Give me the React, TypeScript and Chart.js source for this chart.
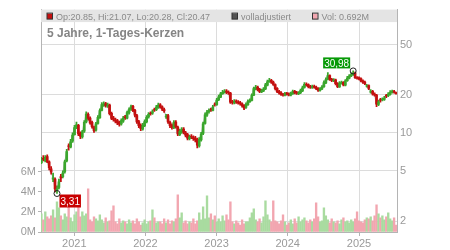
import React, { useEffect, useRef } from 'react';
import { Chart, registerables } from 'chart.js';

Chart.register(...registerables);

// ---- data ----
const startDate = '2020-07-16';
const stepDays = 10;
const axisStart = '2020-07-14';
const axisEnd = '2025-07-15';
const yearTicks = [2021, 2022, 2023, 2024, 2025];
const priceTicks = [2, 5, 10, 20, 50];
const volumeTicksM = [0, 2, 4, 6];
const titleText = '5 Jahre, 1-Tages-Kerzen';
const legendOHLC = 'Op:20.85, Hi:21.07, Lo:20.28, Cl:20.47';
const legendAdjusted = 'volladjustiert';
const legendVolume = 'Vol: 0.692M';

const opens = [
  5.8, 6.3, 6.0, 6.5, 5.9, 5.2, 4.3, 4.3, 3.5, 3.7,
  4.5, 4.5, 4.9, 6.0, 7.9, 7.7, 8.6, 9.7, 11.1, 11.5,
  9.9, 9.3, 10.3, 12.2, 14.0, 13.1, 12.1, 11.0, 10.5, 11.9,
  13.2, 15.1, 16.6, 17.1, 16.3, 16.6, 14.3, 13.1, 12.7, 12.5,
  12.1, 11.8, 12.4, 13.4, 13.1, 14.4, 15.4, 16.2, 15.1, 13.7,
  12.3, 11.5, 10.7, 11.4, 12.2, 13.4, 14.3, 14.3, 15.3, 15.3,
  15.9, 16.7, 16.1, 15.3, 13.4, 13.7, 12.1, 11.5, 11.0, 12.2,
  11.1, 9.7, 10.2, 10.7, 10.0, 9.7, 9.0, 9.4, 9.2, 9.1,
  8.9, 7.9, 8.8, 9.9, 11.9, 13.8, 14.7, 15.3, 15.1, 16.9,
  16.7, 18.3, 19.2, 20.5, 20.9, 21.4, 21.1, 20.7, 17.6, 17.3,
  17.9, 17.5, 17.4, 17.0, 16.5, 15.9, 16.7, 17.7, 18.1, 19.9,
  22.3, 23.1, 22.1, 21.1, 21.5, 22.3, 23.9, 25.5, 26.1, 25.3,
  24.1, 22.5, 21.3, 20.8, 20.1, 19.9, 20.6, 20.4, 19.9, 20.5,
  21.3, 20.9, 20.5, 20.8, 21.5, 22.9, 24.3, 24.1, 23.3, 22.9,
  23.4, 23.1, 22.5, 21.7, 22.3, 23.2, 24.9, 26.6, 28.4, 26.6,
  25.9, 26.3, 24.6, 23.1, 24.7, 25.1, 23.9, 25.9, 27.1, 28.3,
  28.9, 29.9, 27.3, 27.3, 26.9, 25.9, 25.3, 23.4, 23.7, 21.0,
  21.3, 20.3, 19.9, 16.8, 18.4, 18.3, 18.4, 19.8, 19.7, 20.2,
  20.9, 21.3, 20.85,
];
const highs = [
  6.4, 6.6, 6.6, 6.7, 6.0, 5.4, 4.8, 4.4, 3.8, 4.3,
  4.7, 5.0, 6.1, 7.4, 8.2, 8.9, 10.0, 11.5, 12.2, 11.7,
  10.2, 10.5, 12.5, 14.7, 14.4, 13.4, 12.4, 11.3, 12.1, 13.7,
  15.5, 17.4, 17.6, 17.5, 17.2, 16.9, 14.6, 13.5, 13.1, 12.8,
  12.4, 12.9, 13.5, 13.8, 14.9, 15.8, 16.6, 16.5, 15.4, 14.0,
  12.6, 11.8, 11.9, 12.7, 13.7, 14.5, 14.7, 15.2, 15.7, 16.5,
  17.2, 17.1, 16.4, 15.7, 14.0, 14.0, 12.4, 11.8, 12.5, 12.5,
  11.3, 10.7, 11.0, 11.0, 10.3, 9.9, 9.6, 9.7, 9.5, 9.4,
  9.1, 9.2, 10.1, 12.2, 14.4, 15.1, 15.5, 15.7, 16.5, 17.3,
  18.8, 19.9, 21.0, 21.7, 22.0, 22.0, 21.5, 21.0, 18.1, 18.4,
  18.3, 18.0, 17.8, 17.3, 16.8, 17.3, 18.3, 18.6, 20.4, 23.1,
  23.8, 23.5, 22.5, 22.2, 22.9, 24.7, 26.2, 27.0, 26.6, 25.7,
  24.5, 22.9, 21.7, 21.2, 20.6, 21.0, 21.0, 20.8, 21.1, 21.8,
  21.7, 21.3, 21.2, 22.2, 23.5, 25.0, 24.9, 24.5, 23.8, 23.9,
  23.9, 23.5, 22.9, 22.9, 23.7, 25.8, 27.3, 30.0, 28.9, 27.0,
  26.9, 26.7, 25.0, 25.5, 25.7, 25.5, 26.5, 28.0, 29.0, 29.9,
  30.98, 30.3, 27.9, 27.8, 27.3, 26.3, 25.7, 24.3, 24.0, 22.0,
  21.7, 20.8, 20.2, 18.2, 18.8, 19.0, 19.5, 20.2, 20.9, 21.6,
  21.8, 21.7, 21.07,
];
const lows = [
  5.7, 6.0, 5.9, 5.8, 5.1, 4.7, 4.1, 3.4, 3.31, 3.6,
  4.1, 4.4, 4.8, 5.9, 7.3, 7.6, 8.4, 9.6, 10.8, 9.5,
  9.0, 9.1, 10.1, 12.0, 12.6, 11.7, 10.9, 10.1, 10.3, 11.7,
  13.0, 14.9, 16.2, 16.0, 15.9, 13.9, 12.7, 12.4, 12.0, 11.6,
  11.3, 11.5, 12.1, 12.8, 12.9, 14.1, 15.1, 14.7, 13.4, 11.9,
  11.0, 10.4, 10.5, 11.2, 12.0, 13.1, 13.8, 14.0, 14.8, 15.0,
  15.6, 15.7, 15.0, 14.5, 13.0, 11.9, 11.0, 10.7, 10.8, 10.9,
  9.5, 9.5, 9.9, 9.8, 9.3, 8.8, 8.8, 9.0, 8.7, 8.5,
  7.6, 7.7, 8.6, 9.7, 11.7, 13.5, 14.3, 14.8, 14.9, 16.3,
  16.5, 18.0, 19.0, 20.2, 20.6, 20.5, 20.2, 17.1, 16.9, 17.0,
  17.1, 16.9, 16.6, 16.0, 15.3, 15.6, 16.5, 17.4, 17.9, 19.7,
  21.9, 21.5, 20.8, 20.8, 21.2, 22.0, 23.6, 25.1, 24.7, 23.8,
  21.9, 20.8, 20.3, 19.8, 19.5, 19.6, 19.9, 19.6, 19.6, 20.2,
  20.4, 20.2, 20.1, 20.5, 21.2, 22.6, 23.5, 22.7, 22.5, 22.5,
  22.6, 22.0, 21.3, 21.4, 22.0, 22.9, 24.6, 26.3, 26.0, 25.5,
  25.5, 24.0, 22.8, 22.9, 24.3, 23.6, 23.6, 25.6, 26.8, 27.9,
  28.5, 27.0, 26.7, 26.3, 25.3, 24.7, 24.1, 23.0, 22.0, 20.6,
  19.9, 19.5, 16.1, 16.4, 17.5, 17.9, 18.1, 19.0, 19.4, 19.9,
  20.6, 20.6, 20.28,
];
const closes = [
  6.1, 6.2, 6.4, 5.9, 5.3, 4.9, 4.4, 3.6, 3.6, 4.1,
  4.4, 4.8, 5.9, 7.1, 7.8, 8.5, 9.6, 11.0, 11.6, 9.8,
  9.4, 10.2, 12.1, 14.1, 13.0, 12.0, 11.2, 10.4, 11.8, 13.3,
  15.0, 16.8, 17.0, 16.4, 16.7, 14.2, 13.0, 12.8, 12.4, 12.0,
  11.7, 12.5, 13.1, 13.2, 14.5, 15.3, 16.1, 15.0, 13.8, 12.2,
  11.4, 10.8, 11.5, 12.3, 13.3, 14.0, 14.2, 14.7, 15.2, 16.0,
  16.6, 16.0, 15.4, 14.9, 13.6, 12.2, 11.4, 11.1, 12.1, 11.2,
  9.8, 10.3, 10.6, 10.1, 9.6, 9.1, 9.3, 9.3, 9.0, 8.8,
  8.0, 8.9, 9.8, 11.8, 13.9, 14.6, 15.0, 15.2, 16.0, 16.8,
  18.2, 19.3, 20.4, 21.0, 21.3, 21.0, 20.8, 17.5, 17.4, 17.8,
  17.6, 17.3, 17.1, 16.4, 15.8, 16.8, 17.8, 18.0, 19.8, 22.4,
  23.0, 22.0, 21.2, 21.6, 22.2, 24.0, 25.4, 26.0, 25.2, 24.2,
  22.4, 21.2, 20.7, 20.2, 20.0, 20.5, 20.3, 20.0, 20.6, 21.2,
  20.8, 20.6, 20.7, 21.6, 22.8, 24.2, 24.0, 23.2, 23.0, 23.3,
  23.0, 22.4, 21.8, 22.4, 23.1, 25.0, 26.5, 28.5, 26.5, 26.0,
  26.2, 24.5, 23.2, 24.8, 25.0, 24.0, 25.8, 27.2, 28.2, 29.0,
  29.8, 27.4, 27.2, 26.8, 25.8, 25.2, 24.6, 23.6, 22.5, 21.2,
  20.4, 20.0, 16.9, 17.6, 18.2, 18.5, 18.9, 19.6, 20.3, 21.0,
  21.2, 21.0, 20.47,
];
const volumesM = [
  1.8, 1.2, 2.0, 1.5, 1.3, 1.6, 2.2, 1.4, 3.0, 2.4, 1.6,
  1.2, 1.8, 1.5, 2.5, 1.4, 1.0, 1.7, 2.0, 3.4, 1.5,
  2.0, 1.6, 1.8, 4.3, 1.2, 1.0, 1.5, 1.3, 1.1, 1.7,
  1.2, 0.9, 1.4, 1.0, 1.1, 2.1, 2.6, 1.0, 0.8, 1.3, 0.9, 1.1, 1.0, 0.8, 1.2,
  0.9, 1.1, 0.8, 1.3, 1.0, 0.7, 0.9, 1.2, 0.8, 1.0, 1.1, 2.2, 1.4, 0.9, 1.0,
  1.0, 0.8, 1.3, 0.9, 1.2, 0.8, 1.1, 1.0, 1.3, 3.7, 1.4, 1.9, 0.9, 1.1, 0.8,
  1.0, 0.9, 1.3, 0.8, 1.1, 1.9, 1.2, 2.5, 1.3, 3.6, 1.4, 1.8, 1.2, 1.6, 1.0,
  1.3, 1.0, 1.6, 1.1, 1.7, 1.2, 3.0, 1.0, 0.8, 1.1, 0.9, 0.7, 1.2, 0.8, 1.0,
  1.0, 1.4, 1.9, 2.3, 1.2, 1.0, 1.3, 0.9, 1.5, 3.1, 1.7, 1.2, 1.0, 3.1, 1.1,
  1.0, 0.8, 1.1, 1.7, 1.0, 0.7, 0.9, 1.2, 0.8, 1.3, 0.9, 1.5, 1.0, 1.2, 1.4,
  1.1, 0.9, 1.2, 1.0, 1.3, 2.9, 1.5, 1.0, 1.1, 2.4, 1.6, 1.2, 0.9, 1.3, 1.0,
  0.9, 1.1, 0.8, 1.2, 1.4, 1.0, 1.1, 0.9, 1.2, 1.0, 1.3, 2.0, 1.1, 1.0, 0.9,
  1.2, 1.4, 1.3, 1.5, 1.1, 1.6, 2.7, 1.8, 1.4, 1.6, 1.2, 1.5, 1.9, 1.3, 1.1, 1.4, 0.692,
];

// ---- styling ----
const UP = '#3aa62c';
const DOWN = '#c40f0f';
const VOL_UP = '#a9dba0';
const VOL_DOWN = '#f2a6b0';
const GRID = '#dcdcdc';
const AXIS = '#b4b4b4';
const TEXT = '#9a9a9a';
const FONT = '"Liberation Sans", Arial, sans-serif';

const DAY = 86400000;
const t0 = Date.parse(startDate);
const times = closes.map((_, i) => t0 + i * stepDays * DAY);
const up = closes.map((c, i) => c >= opens[i]);

const fmt = (v: number) => v.toFixed(2).replace('.', ',');

const overlayPlugin = {
  id: 'overlay',
  afterDraw(chart: any) {
    const { ctx, chartArea, scales } = chart;
    const left = chartArea.left;
    const right = chartArea.right;
    const top = chartArea.top;
    ctx.save();
    // legend band
    ctx.fillStyle = '#e4e4e4';
    ctx.fillRect(left, top, right - left, 12.5);
    ctx.font = `9px ${FONT}`;
    ctx.textBaseline = 'alphabetic';
    const drawItem = (x: number, fill: string, text: string) => {
      ctx.fillStyle = fill;
      ctx.fillRect(x + 0.5, top + 4, 5, 5.5);
      ctx.strokeStyle = '#333';
      ctx.lineWidth = 1;
      ctx.strokeRect(x + 0.5, top + 3.5, 5.5, 6);
      ctx.fillStyle = '#8a8a8a';
      ctx.fillText(text, x + 9.5, top + 10);
    };
    drawItem(left + 5.5, DOWN, legendOHLC);
    drawItem(left + 190.5, '#555', legendAdjusted);
    drawItem(left + 271, '#f2a6b0', legendVolume);
    // title
    ctx.font = `bold 12px ${FONT}`;
    ctx.fillStyle = '#858585';
    ctx.fillText(titleText, left + 6, top + 27.5);

    // annotations for max high / min low
    const xs = scales.x;
    const ys = scales.y;
    let hi = 0;
    let lo = 0;
    highs.forEach((h, i) => { if (h > highs[hi]) hi = i; });
    lows.forEach((l, i) => { if (l < lows[lo]) lo = i; });
    ctx.font = `10px ${FONT}`;
    // high
    {
      const px = xs.getPixelForValue(times[hi]);
      const py = ys.getPixelForValue(highs[hi]);
      const t = fmt(highs[hi]);
      const w = ctx.measureText(t).width + 2;
      const bx = px - 3 - w;
      const by = py - 2.5 - 11;
      ctx.fillStyle = '#079a07';
      ctx.fillRect(bx, by, w, 11);
      ctx.fillStyle = '#ffffff';
      ctx.fillText(t, bx + 1, by + 9.5);
      ctx.beginPath();
      ctx.arc(px, py, 3, 0, Math.PI * 2);
      ctx.strokeStyle = '#222';
      ctx.stroke();
    }
    // low
    {
      const px = xs.getPixelForValue(times[lo]);
      const py = ys.getPixelForValue(lows[lo]);
      const t = fmt(lows[lo]);
      const w = ctx.measureText(t).width + 2;
      const bx = px + 2.5;
      const by = py + 1;
      ctx.fillStyle = '#c80000';
      ctx.fillRect(bx, by, w, 13);
      ctx.fillStyle = '#ffffff';
      ctx.fillText(t, bx + 1, by + 10.5);
      ctx.beginPath();
      ctx.arc(px, py, 3, 0, Math.PI * 2);
      ctx.strokeStyle = '#222';
      ctx.stroke();
    }
    ctx.restore();
  },
};

export default function App() {
  const ref = useRef<HTMLCanvasElement | null>(null);
  useEffect(() => {
    if (!ref.current) return;
    const chart = new Chart(ref.current, {
      type: 'bar',
      data: {
        datasets: [
          {
            type: 'bar',
            label: 'Volume',
            yAxisID: 'yVol',
            data: volumesM.map((v, i) => ({ x: times[i], y: v })),
            backgroundColor: volumesM.map((_, i) => (up[i] ? VOL_UP : VOL_DOWN)),
            barThickness: 1.7,
            grouped: false,
            order: 4,
          } as any,
          {
            type: 'line',
            label: legendAdjusted,
            yAxisID: 'y',
            data: closes.map((c, i) => ({ x: times[i], y: c })),
            borderColor: 'rgba(110,110,110,0.45)',
            borderWidth: 1.2,
            pointRadius: 0,
            tension: 0,
            order: 3,
          } as any,
          {
            type: 'bar',
            label: 'wick',
            yAxisID: 'y',
            data: highs.map((h, i) => ({ x: times[i], y: [lows[i], h] })),
            backgroundColor: up.map((u) => (u ? UP : DOWN)),
            barThickness: 1.1,
            grouped: false,
            order: 2,
          } as any,
          {
            type: 'bar',
            label: 'body',
            yAxisID: 'y',
            data: opens.map((o, i) => ({ x: times[i], y: [o, closes[i]] })),
            backgroundColor: up.map((u) => (u ? UP : DOWN)),
            barThickness: 2,
            grouped: false,
            order: 1,
          } as any,
        ],
      },
      options: {
        responsive: false,
        animation: false,
        layout: { padding: { top: 7, left: 0, right: 0, bottom: 0 } },
        plugins: { legend: { display: false }, tooltip: { enabled: false }, title: { display: false } },
        scales: {
          x: {
            type: 'linear',
            offset: false,
            min: Date.parse(axisStart),
            max: Date.parse(axisEnd),
            afterBuildTicks: (s: any) => {
              s.ticks = yearTicks.map((y) => ({ value: Date.UTC(y, 0, 1) }));
            },
            afterFit: (s: any) => {
              s.height = 18;
            },
            ticks: {
              callback: (v: any) => String(new Date(v).getUTCFullYear()),
              color: TEXT,
              font: { size: 11, family: FONT },
              maxRotation: 0,
              autoSkip: false,
              padding: 1,
            },
            grid: { color: GRID, offset: false, drawTicks: true, tickLength: 4, tickColor: AXIS },
            border: { color: AXIS },
          },
          y: {
            type: 'logarithmic',
            position: 'right',
            min: 1.64,
            max: 94.8,
            afterBuildTicks: (s: any) => {
              s.ticks = priceTicks.map((v) => ({ value: v }));
            },
            afterFit: (s: any) => {
              s.width = 53;
            },
            ticks: {
              callback: (v: any) => String(v),
              color: TEXT,
              font: { size: 11, family: FONT },
              padding: 3,
            },
            grid: { color: GRID, drawTicks: false },
            border: { color: AXIS },
          },
          yVol: {
            type: 'linear',
            position: 'left',
            min: 0,
            max: 22.1,
            afterBuildTicks: (s: any) => {
              s.ticks = volumeTicksM.map((v) => ({ value: v }));
            },
            afterFit: (s: any) => {
              s.width = 41;
            },
            ticks: {
              callback: (v: any) => `${v}M`,
              color: TEXT,
              font: { size: 11, family: FONT },
              padding: 2,
            },
            grid: { drawOnChartArea: false, drawTicks: true, tickLength: 3, tickColor: AXIS },
            border: { color: AXIS },
          },
        },
      } as any,
      plugins: [overlayPlugin],
    });
    return () => chart.destroy();
  }, []);
  return (
    <div style={{ position: 'absolute', left: 0, top: 0, width: 450, height: 250, background: '#fff' }}>
      <canvas ref={ref} width={450} height={250} style={{ display: 'block' }} />
    </div>
  );
}
